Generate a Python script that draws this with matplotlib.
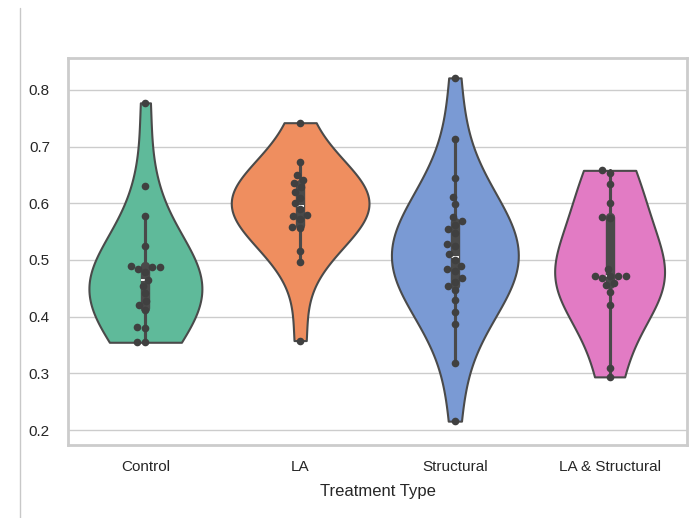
import numpy as np
import pandas as pd
import seaborn as sns
from matplotlib import pyplot as plt
from matplotlib.lines import Line2D

# values, one list per treatment
treatments = ["Control", "LA", "Structural", "LA & Structural"]

control = [0.777, 0.630, 0.578, 0.525, 0.490, 0.488, 0.487, 0.485, 0.479,
           0.465, 0.454, 0.441, 0.427, 0.420, 0.412, 0.382, 0.380, 0.356, 0.355]
la = [0.742, 0.673, 0.650, 0.641, 0.635, 0.628, 0.620, 0.610, 0.600, 0.590,
      0.580, 0.578, 0.572, 0.559, 0.556, 0.515, 0.497, 0.358]
structural = [0.821, 0.714, 0.644, 0.611, 0.598, 0.575, 0.568, 0.562, 0.555,
              0.547, 0.529, 0.524, 0.510, 0.500, 0.490, 0.485, 0.481, 0.468,
              0.462, 0.455, 0.447, 0.429, 0.409, 0.388, 0.319, 0.216]
la_structural = [0.658, 0.653, 0.634, 0.601, 0.576, 0.574, 0.485, 0.472, 0.472,
                 0.472, 0.472, 0.468, 0.460, 0.456, 0.444, 0.421, 0.309, 0.294]

colors = ["#5fba9a", "#ef8e5f", "#7a9ad4", "#e27bc4"]
# widest point of each violin, as a fraction of the category spacing
widths = [0.73, 0.89, 0.82, 0.71]
y_ticks = [0.2, 0.3, 0.4, 0.5, 0.6, 0.7, 0.8]

groups = [control, la, structural, la_structural]
df = pd.DataFrame({
    "Treatment Type": np.repeat(treatments, [len(g) for g in groups]),
    "value": np.concatenate(groups),
})

sns.set_theme(style="whitegrid", context="notebook")
plt.rcParams["font.family"] = ["Liberation Sans", "DejaVu Sans"]

fig = plt.figure(figsize=(6.9, 5.18), dpi=100)
ax = fig.add_axes([0.0986, 0.141, 0.897, 0.747])

for name, vals, c, w in zip(treatments, groups, colors, widths):
    sns.violinplot(x=[name] * len(vals), y=vals, order=treatments, color=c,
                   saturation=1, cut=0, bw_adjust=1.35, width=w,
                   density_norm="width", inner="box", linewidth=1.5,
                   linecolor="#4a4a4a", ax=ax)
sns.swarmplot(data=df, x="Treatment Type", y="value", order=treatments,
              color=".25", size=5.5, ax=ax)

ax.set_ylim(0.174, 0.856)
ax.set_xlim(-0.5, 3.5)
ax.set_yticks(y_ticks)
ax.set_ylabel("")
ax.set_xlabel("Treatment Type", labelpad=7)
ax.tick_params(axis="x", pad=5)
ax.tick_params(axis="y", pad=7)
for s in ax.spines.values():
    s.set_color("#cccccc")
    s.set_linewidth(2)

# stray border line at the left of the screenshot
fig.add_artist(Line2D([20 / 690, 20 / 690], [0, 1 - 8 / 518], color="#c8c8c8", lw=1))

fig.savefig("out.png", dpi=100)
